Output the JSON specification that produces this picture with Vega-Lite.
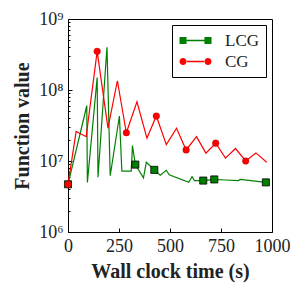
{
  "$schema": "https://vega.github.io/schema/vega-lite/v6.json",
  "autosize": "none",
  "padding": {"left": 68, "top": 19, "right": 31, "bottom": 59},
  "width": 204,
  "height": 213,
  "config": {
    "view": {"stroke": "black", "strokeWidth": 1},
    "font": "Liberation Serif",
    "axis": {"grid": false, "domain": false, "labelFont": "Liberation Serif", "titleFont": "Liberation Serif", "labelColor": "#222", "titleColor": "#222", "tickColor": "black"}
  },
  "data": {"values": [
    {"series": "LCG", "t": 0, "v": 4.7e6, "marker": true},
    {"series": "LCG", "t": 92, "v": 6.0e7, "marker": false},
    {"series": "LCG", "t": 95, "v": 5.0e6, "marker": false},
    {"series": "LCG", "t": 143, "v": 1.5e8, "marker": false},
    {"series": "LCG", "t": 147, "v": 5.9e6, "marker": false},
    {"series": "LCG", "t": 191, "v": 4.0e8, "marker": false},
    {"series": "LCG", "t": 207, "v": 6.2e6, "marker": false},
    {"series": "LCG", "t": 252, "v": 4.3e7, "marker": false},
    {"series": "LCG", "t": 264, "v": 7.2e6, "marker": false},
    {"series": "LCG", "t": 310, "v": 7.2e6, "marker": false},
    {"series": "LCG", "t": 316, "v": 1.65e7, "marker": false},
    {"series": "LCG", "t": 330, "v": 8.9e6, "marker": true},
    {"series": "LCG", "t": 370, "v": 5.8e6, "marker": false},
    {"series": "LCG", "t": 384, "v": 9.6e6, "marker": false},
    {"series": "LCG", "t": 423, "v": 7.5e6, "marker": true},
    {"series": "LCG", "t": 452, "v": 6.3e6, "marker": false},
    {"series": "LCG", "t": 482, "v": 7.4e6, "marker": false},
    {"series": "LCG", "t": 496, "v": 6.4e6, "marker": false},
    {"series": "LCG", "t": 592, "v": 5.0e6, "marker": false},
    {"series": "LCG", "t": 608, "v": 6.0e6, "marker": false},
    {"series": "LCG", "t": 620, "v": 5.3e6, "marker": false},
    {"series": "LCG", "t": 663, "v": 5.3e6, "marker": true},
    {"series": "LCG", "t": 717, "v": 5.5e6, "marker": true},
    {"series": "LCG", "t": 770, "v": 5.4e6, "marker": false},
    {"series": "LCG", "t": 835, "v": 5.3e6, "marker": false},
    {"series": "LCG", "t": 845, "v": 5.5e6, "marker": false},
    {"series": "LCG", "t": 970, "v": 5.0e6, "marker": true},
    {"series": "CG", "t": 0, "v": 4.7e6, "marker": true},
    {"series": "CG", "t": 40, "v": 2.6e7, "marker": false},
    {"series": "CG", "t": 89, "v": 2.2e7, "marker": false},
    {"series": "CG", "t": 143, "v": 3.5e8, "marker": true},
    {"series": "CG", "t": 196, "v": 2.9e7, "marker": false},
    {"series": "CG", "t": 242, "v": 1.35e8, "marker": false},
    {"series": "CG", "t": 286, "v": 2.5e7, "marker": true},
    {"series": "CG", "t": 338, "v": 6.8e7, "marker": false},
    {"series": "CG", "t": 387, "v": 2.1e7, "marker": false},
    {"series": "CG", "t": 433, "v": 4.3e7, "marker": true},
    {"series": "CG", "t": 482, "v": 1.7e7, "marker": false},
    {"series": "CG", "t": 532, "v": 2.9e7, "marker": false},
    {"series": "CG", "t": 579, "v": 1.43e7, "marker": true},
    {"series": "CG", "t": 630, "v": 2.2e7, "marker": false},
    {"series": "CG", "t": 676, "v": 1.29e7, "marker": false},
    {"series": "CG", "t": 724, "v": 1.78e7, "marker": true},
    {"series": "CG", "t": 772, "v": 1.1e7, "marker": false},
    {"series": "CG", "t": 821, "v": 1.5e7, "marker": false},
    {"series": "CG", "t": 871, "v": 1.0e7, "marker": true},
    {"series": "CG", "t": 921, "v": 1.3e7, "marker": false},
    {"series": "CG", "t": 974, "v": 9.6e6, "marker": false}
  ]},
  "encoding": {
    "x": {
      "field": "t", "type": "quantitative",
      "scale": {"domain": [0, 1000], "nice": false},
      "axis": {
        "values": [0, 250, 500, 750, 1000], "format": "d",
        "title": "Wall clock time (s)",
        "titleFontSize": 20, "titleFontWeight": "bold", "titlePadding": 6,
        "labelFontSize": 18, "tickSize": -4, "labelPadding": 9, "labelFlush": false
      }
    },
    "y": {
      "field": "v", "type": "quantitative",
      "scale": {"type": "log", "domain": [1e6, 1e9], "nice": false},
      "axis": {
        "values": [1e6, 2e6, 3e6, 4e6, 5e6, 6e6, 7e6, 8e6, 9e6, 1e7, 2e7, 3e7, 4e7, 5e7, 6e7, 7e7, 8e7, 9e7, 1e8, 2e8, 3e8, 4e8, 5e8, 6e8, 7e8, 8e8, 9e8, 1e9],
        "labelExpr": "datum.value == 1e6 ? '10⁶' : datum.value == 1e7 ? '10⁷' : datum.value == 1e8 ? '10⁸' : datum.value == 1e9 ? '10⁹' : ''",
        "title": "Function value",
        "titleFontSize": 20, "titleFontWeight": "bold", "titlePadding": 6,
        "labelFontSize": 18, "labelPadding": 9, "labelFlush": false,
        "tickSize": {"condition": {"test": "indexof([1000000,10000000,100000000,1000000000], datum.value) >= 0", "value": -4}, "value": -2}
      }
    },
    "color": {
      "field": "series", "type": "nominal",
      "scale": {"domain": ["LCG", "CG"], "range": ["#008000", "#ff0000"]},
      "legend": {
        "title": null, "orient": "top-right", "offset": 6,
        "strokeColor": "black", "fillColor": "white", "padding": 7,
        "labelFontSize": 17, "labelFont": "Liberation Serif", "labelColor": "#222",
        "symbolSize": 256, "symbolStrokeWidth": 0, "symbolOpacity": 1, "labelOffset": 29, "rowPadding": 3
      }
    }
  },
  "layer": [
    {"mark": {"type": "line", "strokeWidth": 1.2, "clip": true}},
    {
      "transform": [{"filter": "datum.marker && datum.series === 'LCG'"}],
      "mark": {"type": "point", "shape": "square", "size": 50, "filled": true, "opacity": 1, "stroke": "black", "strokeWidth": 0.8}
    },
    {
      "transform": [{"filter": "datum.marker && datum.series === 'CG'"}],
      "mark": {"type": "point", "shape": "circle", "size": 45, "filled": true, "opacity": 1, "stroke": "#800000", "strokeWidth": 0.6, "strokeOpacity": 0.5}
    },
    {
      "transform": [{"filter": "false"}],
      "mark": {"type": "point", "filled": true, "opacity": 1},
      "encoding": {
        "shape": {
          "field": "series", "type": "nominal",
          "scale": {"domain": ["LCG", "CG"], "range": [
            "M-1,-0.44H-0.12V-0.08H2.12V-0.44H3V0.44H2.12V0.08H-0.12V0.44H-1Z",
            "M-1,0A0.44,0.44,0,1,0,-0.12,0A0.44,0.44,0,1,0,-1,0Z M2.12,0A0.44,0.44,0,1,0,3,0A0.44,0.44,0,1,0,2.12,0Z M-0.2,-0.08H2.2V0.08H-0.2Z"
          ]},
          "legend": {"title": null}
        }
      }
    }
  ]
}
